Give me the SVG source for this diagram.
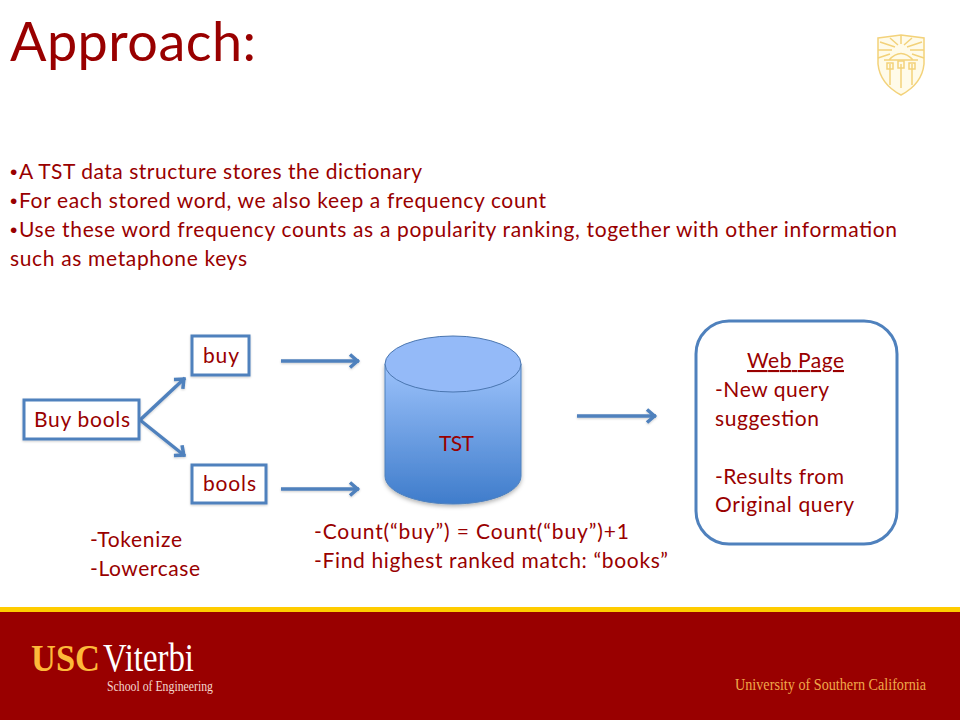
<svg xmlns="http://www.w3.org/2000/svg" width="960" height="720" viewBox="0 0 960 720">
<style>
text{font-family:Lato,"Open Sans",sans-serif;fill:#990000;font-size:21px}
.bul{font-family:"Liberation Sans",sans-serif}
.box{fill:#fff;stroke:#4f81bd;stroke-width:3;filter:url(#soft)}
.conn{fill:none;stroke:#4f81bd;stroke-width:3.5;marker-end:url(#arrow);filter:url(#soft)}
.serif{font-family:"Liberation Serif",serif}
.seal{fill:none;stroke:#f3d27a;stroke-width:1.5}
</style>
<defs>
<marker id="arrow" markerUnits="userSpaceOnUse" markerWidth="18" markerHeight="18" refX="13.5" refY="7" orient="auto" overflow="visible">
<path d="M4.5 0.5 L12 7 L4.5 13.5" fill="none" stroke="#4f81bd" stroke-width="3.5"/>
</marker>
<linearGradient id="cyl" x1="0" y1="0" x2="0" y2="1"><stop offset="0" stop-color="#9cc2fb"/><stop offset="1" stop-color="#3f7ccb"/></linearGradient>
<filter id="sh" x="-10%" y="-10%" width="120%" height="120%"><feDropShadow dx="0" dy="2" stdDeviation="2" flood-color="#000" flood-opacity=".3"/></filter>
<filter id="soft" filterUnits="userSpaceOnUse" x="0" y="0" width="960" height="720"><feDropShadow dx="0" dy="1" stdDeviation="1" flood-color="#000" flood-opacity=".2"/></filter>
</defs>
<rect width="960" height="720" fill="#fff"/>
<text x="10" y="61" style="font-size:54px" textLength="246">Approach:</text>
<g id="bullets">
<text x="10" y="179"><tspan class="bul">•</tspan><tspan x="19" textLength="403">A TST data structure stores the dictionary</tspan></text>
<text x="10" y="208"><tspan class="bul">•</tspan><tspan x="19" textLength="527">For each stored word, we also keep a frequency count</tspan></text>
<text x="10" y="237"><tspan class="bul">•</tspan><tspan x="19" textLength="878">Use these word frequency counts as a popularity ranking, together with other information</tspan></text>
<text x="10" y="266" textLength="237">such as metaphone keys</text>
</g>
<g id="seal">
<path d="M878 38 L901 35 L924 38 V64 Q922 84 901 95 Q880 84 878 64Z" fill="#fffbe9" stroke="#f3d27a" stroke-width="1.5"/>
<path class="seal" d="M889 60 Q901 47 913 60 M878 58 L890 54 M878 50 L892 50 M880 42 L895 47 M890 38 L898 45 M901 36 V44 M912 38 L904 45 M922 42 L907 47 M924 50 L910 50 M924 58 L912 54 M884 60 H918"/>
<path class="seal" d="M890 64 V85 M901 64 V88 M912 64 V85 M887 63 h6 v6 h-6z M898 61 h6 v7 h-6z M909 63 h6 v6 h-6z"/>
</g>
<g id="connectors">
<path class="conn" d="M140 420 L185 378"/>
<path class="conn" d="M140 420 L185 456"/>
<path class="conn" d="M281 361 H359"/>
<path class="conn" d="M281 489 H359"/>
<path class="conn" d="M577 416 H656"/>
</g>
<g id="node-buybools"><rect class="box" x="24" y="400" width="115" height="39"/><text x="34" y="427" textLength="96">Buy bools</text></g>
<g id="node-buy"><rect class="box" x="192" y="336" width="57" height="39"/><text x="203" y="363" textLength="36">buy</text></g>
<g id="node-bools"><rect class="box" x="192" y="465" width="74" height="38"/><text x="203" y="491" textLength="53">bools</text></g>
<g id="node-tst">
<path d="M385 364 V476 C385 492 416 504 453 504 C490 504 521 492 521 476 V364Z" fill="url(#cyl)" stroke="#4f81bd" filter="url(#sh)"/>
<ellipse cx="453" cy="364" rx="68" ry="28" fill="#94baf8" stroke="#4a76b0"/>
<text x="439" y="451" textLength="35">TST</text>
</g>
<g id="node-webpage">
<rect x="696" y="321" width="201" height="223" rx="33" fill="#fff" stroke="#4f81bd" stroke-width="3"/>
<text x="747" y="368" textLength="97" text-decoration="underline">Web Page</text>
<text x="715" y="397" textLength="114">-New query</text>
<text x="715" y="426" textLength="104">suggestion</text>
<text x="715" y="484" textLength="129">-Results from</text>
<text x="715" y="512" textLength="139">Original query</text>
</g>
<g id="notes">
<text x="90" y="547" textLength="92">-Tokenize</text>
<text x="90" y="576" textLength="110">-Lowercase</text>
<text x="314" y="539" textLength="315">-Count(“buy”) = Count(“buy”)+1</text>
<text x="314" y="568" textLength="354">-Find highest ranked match: “books”</text>
</g>
<g id="footer">
<rect y="612" width="960" height="108" fill="#990000"/>
<rect y="607" width="960" height="5" fill="#ffcc00"/>
<text class="serif" x="31" y="671" style="font-size:38px;font-weight:bold;fill:#fdb93a" textLength="69" lengthAdjust="spacingAndGlyphs">USC</text>
<text class="serif" x="103" y="671" style="font-size:39px;fill:#fff" textLength="91" lengthAdjust="spacingAndGlyphs">Viterbi</text>
<text class="serif" x="107" y="691" style="font-size:14px;fill:#f4d9cf" textLength="106" lengthAdjust="spacingAndGlyphs">School of Engineering</text>
<text class="serif" x="735" y="690" style="font-size:16px;fill:#f0a94a" textLength="191" lengthAdjust="spacingAndGlyphs">University of Southern California</text>
</g>
</svg>
